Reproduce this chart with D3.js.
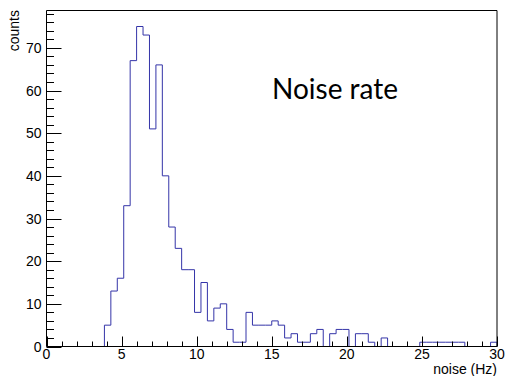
<!DOCTYPE html>
<html>
<head>
<meta charset="utf-8">
<script src="https://cdn.jsdelivr.net/npm/d3@7"></script>
<style>
  html, body { margin: 0; padding: 0; background: #fff; }
  svg { display: block; }
</style>
</head>
<body>
<svg id="chart" width="513" height="376"></svg>
<script>
// Histogram of channel noise rates: 70 equal bins from 0 to 30 Hz
const xRange = [0, 30];
const nBins = 70;
const binCounts = [
  0, 0, 0, 0, 0, 0, 0, 0, 0, 5,
  13, 16, 33, 67, 75, 73, 51, 66, 40, 28,
  23, 18, 18, 8, 15, 6, 9, 10, 4, 1,
  1, 8, 5, 5, 5, 6, 5, 2, 3, 1,
  1, 3, 4, 0, 3, 4, 4, 0, 3, 3,
  1, 0, 2, 0, 0, 0, 0, 0, 1, 1,
  1, 1, 1, 1, 1, 0, 0, 0, 0, 1
];
const xMajorTicks = [0, 5, 10, 15, 20, 25, 30];
const yMajorTicks = [0, 10, 20, 30, 40, 50, 60, 70];
const xTitle = "noise (Hz)";
const yTitle = "counts";
const chartTitle = "Noise rate";

const svg = d3.select("#chart");
const frame = { left: 46.5, right: 497, top: 10.5, bottom: 346.5 };
const yMax = d3.max(binCounts) * 1.05;

const x = d3.scaleLinear().domain(xRange).range([frame.left, frame.right]);
const y = d3.scaleLinear().domain([0, yMax]).range([frame.bottom, frame.top]);

const binWidth = (xRange[1] - xRange[0]) / nBins;

// step outline of the histogram
const pts = [[xRange[0], 0]];
binCounts.forEach((c, i) => {
  const lo = xRange[0] + i * binWidth, hi = lo + binWidth;
  pts.push([lo, c], [hi, c]);
});
pts.push([xRange[1], 0]);

svg.append("path")
  .datum(pts)
  .attr("fill", "none")
  .attr("stroke", "#3434a8")
  .attr("stroke-width", 1)
  .attr("d", d3.line().x(d => x(d[0])).y(d => y(d[1])));

// frame
const g = svg.append("g").attr("stroke", "#000").attr("stroke-width", 1);
g.append("line").attr("x1", frame.left).attr("x2", frame.right).attr("y1", frame.top).attr("y2", frame.top);
g.append("line").attr("x1", frame.right).attr("x2", frame.right).attr("y1", frame.top).attr("y2", frame.bottom);
g.append("line").attr("x1", frame.left).attr("x2", frame.left).attr("y1", frame.top).attr("y2", frame.bottom);
g.append("line").attr("x1", frame.left).attr("x2", frame.right).attr("y1", frame.bottom).attr("y2", frame.bottom);

// x ticks (pointing up into the frame)
const xMinor = d3.range(xRange[0], xRange[1] + 0.001, 1);
g.selectAll(".xt").data(xMinor).join("line")
  .attr("x1", d => Math.round(x(d)) + 0.5).attr("x2", d => Math.round(x(d)) + 0.5)
  .attr("y1", frame.bottom)
  .attr("y2", d => frame.bottom - (xMajorTicks.includes(d) ? 10 : 5));

// y ticks (pointing right into the frame)
const yMinor = d3.range(0, yMax, 2);
g.selectAll(".yt").data(yMinor).join("line")
  .attr("y1", d => Math.round(y(d)) + 0.5).attr("y2", d => Math.round(y(d)) + 0.5)
  .attr("x1", frame.left)
  .attr("x2", d => frame.left + (yMajorTicks.includes(d) ? 15 : 7.5));

const font = "'Liberation Sans', Arial, sans-serif";

// tick labels
svg.selectAll(".xl").data(xMajorTicks).join("text")
  .attr("x", d => x(d)).attr("y", 359)
  .attr("text-anchor", "middle")
  .attr("font-family", font).attr("font-size", 14).attr("fill", "#000")
  .text(d => d);

svg.selectAll(".yl").data(yMajorTicks).join("text")
  .attr("x", 41.5).attr("y", d => y(d) + 5)
  .attr("text-anchor", "end")
  .attr("font-family", font).attr("font-size", 14).attr("fill", "#000")
  .text(d => d);

// axis titles
svg.append("text")
  .attr("x", 497).attr("y", 374)
  .attr("text-anchor", "end")
  .attr("font-family", font).attr("font-size", 14).attr("fill", "#000")
  .text(xTitle);

svg.append("text")
  .attr("transform", "translate(18.5,10) rotate(-90)")
  .attr("text-anchor", "end")
  .attr("font-family", font).attr("font-size", 14).attr("fill", "#000")
  .text(yTitle);

// chart label
svg.append("text")
  .attr("x", 272).attr("y", 98.5)
  .attr("font-family", "Lato, 'Open Sans', sans-serif").attr("font-size", 28).attr("fill", "#000")
  .text(chartTitle);
</script>
</body>
</html>
